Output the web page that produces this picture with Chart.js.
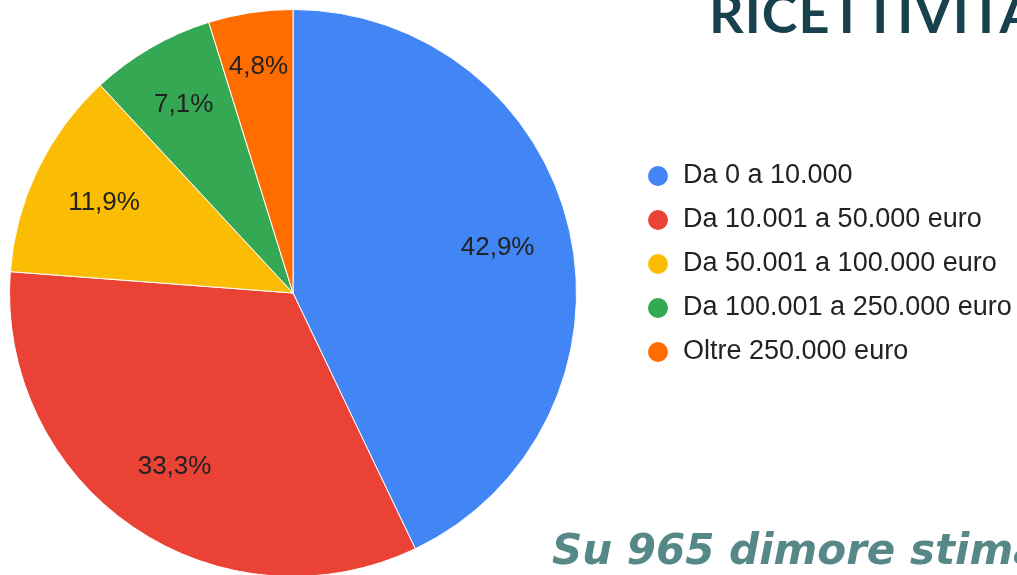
<!DOCTYPE html>
<html>
<head>
<meta charset="utf-8">
<script src="https://cdn.jsdelivr.net/npm/chart.js@4"></script>
<style>
  html, body { margin: 0; padding: 0; background: #fff; overflow: hidden; width: 1017px; height: 575px; }
  #wrap { position: absolute; left: 0; top: 0; width: 1017px; height: 586px; }
  .title { position: absolute; left: 709px; top: -20px; font: bold 54px "Lato", "DejaVu Sans", sans-serif; color: #17424d; white-space: nowrap; letter-spacing: 1px; }
  .note { position: absolute; left: 552px; top: 525px; font: italic bold 42px "DejaVu Sans", sans-serif; color: #558886; white-space: nowrap; }
</style>
</head>
<body>
<div id="wrap"><canvas id="pie"></canvas></div>
<div class="title">RICETTIVITÀ</div>
<div class="note">Su 965 dimore stimate</div>
<script>
// ── Ricettività – fasce di fatturato ──
const labels = ['Da 0 a 10.000','Da 10.001 a 50.000 euro','Da 50.001 a 100.000 euro','Da 100.001 a 250.000 euro','Oltre 250.000 euro'];
const shares = [42.9, 33.3, 11.9, 7.1, 4.8];
const colors = ['#4285f4','#ea4335','#fbbc04','#34a853','#ff6d01'];

// percent labels inside the slices
const sliceLabels = {
  id: 'sliceLabels',
  afterDatasetsDraw(chart) {
    const ctx = chart.ctx;
    const meta = chart.getDatasetMeta(0);
    ctx.save();
    ctx.font = '26px "Liberation Sans", Arial, sans-serif';
    ctx.fillStyle = '#222';
    ctx.textAlign = 'center'; ctx.textBaseline = 'middle';
    meta.data.forEach((arc, i) => {
      const v = chart.data.datasets[0].data[i];
      const mid = (arc.startAngle + arc.endAngle) / 2;
      const f = v < 6 ? 0.81 : (v < 10 ? 0.77 : 0.74);
      const r = arc.outerRadius * f;
      ctx.fillText(v.toFixed(1).replace('.', ',') + '%', arc.x + Math.cos(mid) * r, arc.y + Math.sin(mid) * r + 1);
    });
    ctx.restore();
  }
};

// legend drawn at the right
const sideLegend = {
  id: 'sideLegend',
  afterDraw(chart) {
    const ctx = chart.ctx;
    ctx.save();
    ctx.font = '27px "Liberation Sans", Arial, sans-serif';
    ctx.textBaseline = 'middle';
    chart.data.labels.forEach((l, i) => {
      const y = 176 + i * 44;
      ctx.fillStyle = chart.data.datasets[0].backgroundColor[i];
      ctx.beginPath(); ctx.arc(658, y, 10, 0, Math.PI * 2); ctx.fill();
      ctx.fillStyle = '#222';
      ctx.fillText(l, 683, y);
    });
    ctx.restore();
  }
};

new Chart(document.getElementById('pie').getContext('2d'), {
  type: 'pie',
  data: {
    labels: labels,
    datasets: [{ data: shares, backgroundColor: colors, borderWidth: 1, borderColor: '#fff' }]
  },
  options: {
    responsive: true, maintainAspectRatio: false, animation: false,
    layout: { padding: { left: 9, top: 9, right: 440, bottom: 9 } },
    plugins: { legend: { display: false }, tooltip: { enabled: false } }
  },
  plugins: [sliceLabels, sideLegend]
});
</script>
</body>
</html>
